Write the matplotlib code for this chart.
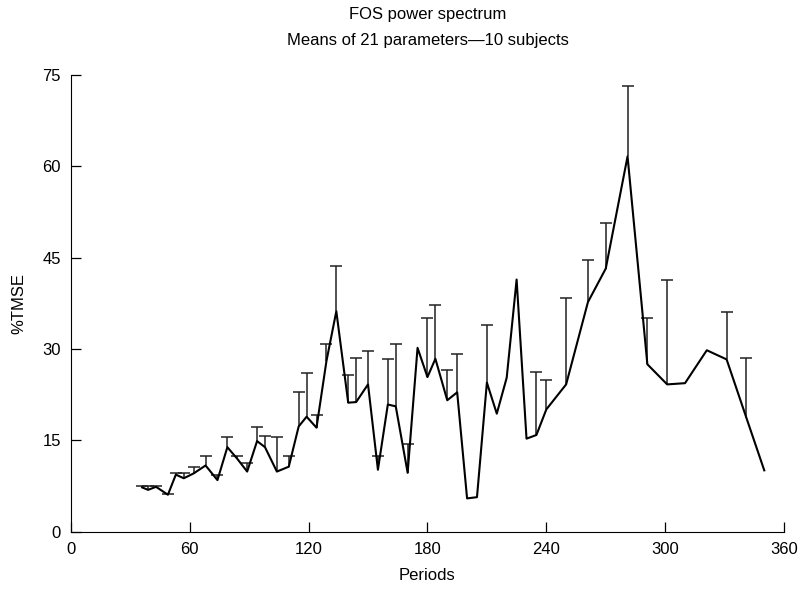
import numpy as np
from matplotlib import pyplot as plt
from matplotlib import font_manager

periods = [36, 39, 43, 49, 53, 57, 62, 68, 74, 79, 84, 89, 94, 98, 104, 110,
           115, 119, 124, 129, 134, 140, 144, 150, 155, 160, 164, 170, 175,
           180, 184, 190, 195, 200, 205, 210, 215, 220, 225, 230, 235, 240,
           250, 261, 270, 281, 291, 301, 310, 321, 331, 341, 350]
tmse = [7.3, 6.9, 7.4, 6.1, 9.4, 8.8, 9.6, 10.9, 8.5, 13.9, 12.0, 9.9, 14.9,
        13.9, 9.9, 10.7, 17.3, 18.9, 17.1, 28.0, 36.2, 21.2, 21.3, 24.2, 10.2,
        20.9, 20.6, 9.7, 30.2, 25.4, 28.4, 21.6, 22.9, 5.5, 5.7, 24.5, 19.4,
        25.3, 41.4, 15.3, 15.9, 20.1, 24.2, 37.7, 43.2, 61.6, 27.5, 24.2, 24.4,
        29.8, 28.3, 18.7, 10.1]
# top of the error bar, nan where the picture shows none
upper = [7.5, 7.6, 7.6, 6.3, 9.7, 9.6, 10.6, 12.4, 9.4, 15.6, 12.4, 11.3, 17.2,
         15.8, 15.6, 12.4, 22.9, 26.0, 19.2, 30.8, 43.7, 25.8, 28.6, 29.7, 12.4,
         28.4, 30.8, 14.4, np.nan, 35.1, 37.3, 26.5, 29.2, np.nan, np.nan, 33.9,
         np.nan, np.nan, np.nan, np.nan, 26.2, 25.0, 38.3, 44.6, 50.7, 73.1,
         35.1, 41.4, np.nan, np.nan, 36.1, 28.6, np.nan]

names = {f.name for f in font_manager.fontManager.ttflist}
if 'Liberation Sans Narrow' in names:
    fam, fs = ['Liberation Sans Narrow', 'DejaVu Sans'], 14
else:
    fam, fs = ['Liberation Sans', 'DejaVu Sans'], 12
plt.rcParams['font.family'] = fam

x = np.array(periods, dtype=float)
y = np.array(tmse)
up = np.array(upper)
has = ~np.isnan(up)

fig = plt.figure(figsize=(8.05, 5.93), dpi=100)
ax = fig.add_axes([0.088, 0.103, 0.886, 0.771])

ax.vlines(x[has], y[has], up[has], color='#222222', lw=1.1)
ax.plot(x[has], up[has], ls='none', marker='_', ms=9, mew=1.1, color='#222222')
ax.plot(x, y, color='black', lw=1.5)

ax.set_xlim(0, 360)
ax.set_ylim(0, 75)
ax.set_xticks(range(0, 361, 60))
ax.set_yticks(range(0, 76, 15))
ax.spines['top'].set_visible(False)
ax.spines['right'].set_visible(False)
ax.tick_params(direction='in', length=7, width=0.9, labelsize=fs, pad=7)
ax.set_xlabel('Periods', fontsize=fs, labelpad=8)
ax.set_ylabel('%TMSE', fontsize=fs, labelpad=12)

cx = 0.088 + 0.886 / 2
fig.text(cx, 1 - 15 / 593, 'FOS power spectrum', ha='center', va='center', fontsize=fs)
fig.text(cx, 1 - 40 / 593, 'Means of 21 parameters\u201410 subjects',
         ha='center', va='center', fontsize=fs)

fig.savefig('out.png', dpi=100)
